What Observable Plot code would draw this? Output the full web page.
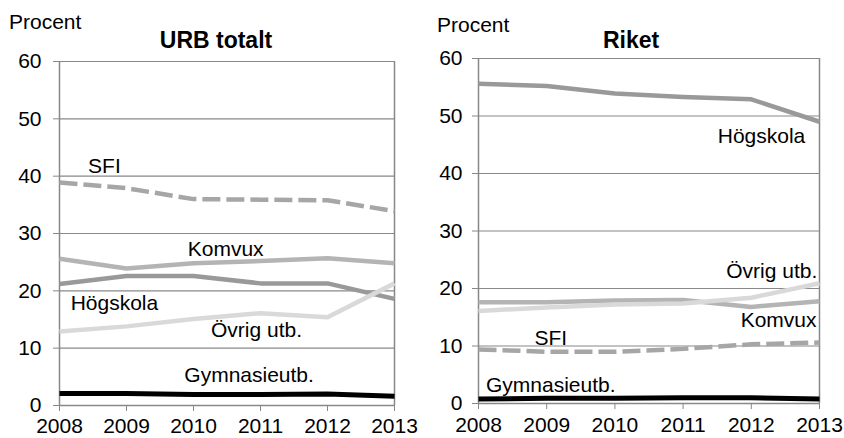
<!DOCTYPE html>
<html>
<head>
<meta charset="utf-8">
<script src="https://cdn.jsdelivr.net/npm/d3@7"></script>
<script src="https://cdn.jsdelivr.net/npm/@observablehq/plot@0.6"></script>
<style>
  html, body { margin: 0; padding: 0; background: #fff; }
  #wrap { position: relative; width: 844px; height: 438px; font-family: "Liberation Sans", Arial, sans-serif; color: #000; }
  .panel { position: absolute; top: 0; }
  .txt { position: absolute; white-space: nowrap; line-height: 1; }
  .unit { font-size: 21px; }
  .title { font-size: 23px; font-weight: bold; transform: translateX(-50%); }
</style>
</head>
<body>
<div id="wrap">
  <div class="panel" id="left" style="left:0"></div>
  <div class="panel" id="right" style="left:422px"></div>
  <div class="txt unit" style="left:9px; top:11px">Procent</div>
  <div class="txt title" style="left:216px; top:29px">URB totalt</div>
  <div class="txt unit" style="left:437px; top:14px">Procent</div>
  <div class="txt title" style="left:631px; top:29px">Riket</div>
</div>
<script>
const years = [2008, 2009, 2010, 2011, 2012, 2013];
const yTicks = [0, 10, 20, 30, 40, 50, 60];
const series = ["Högskola", "Komvux", "SFI", "Övrig utb.", "Gymnasieutb."];

// URB totalt
const urbHogskola = [21.2, 22.6, 22.6, 21.3, 21.3, 18.6];
const urbKomvux   = [25.6, 23.9, 24.8, 25.2, 25.7, 24.8];
const urbSfi      = [38.9, 37.9, 36.0, 35.9, 35.8, 33.9];
const urbOvrig    = [12.9, 13.8, 15.1, 16.1, 15.4, 21.3];
const urbGymn     = [2.1, 2.1, 1.9, 1.9, 2.0, 1.6];

// Riket
const riketHogskola = [55.6, 55.2, 53.9, 53.3, 52.9, 49.0];
const riketKomvux   = [17.6, 17.6, 17.9, 18.0, 16.8, 17.8];
const riketSfi      = [9.4, 9.0, 9.0, 9.5, 10.3, 10.6];
const riketOvrig    = [16.1, 16.7, 17.2, 17.4, 18.4, 20.9];
const riketGymn     = [0.8, 0.9, 0.9, 1.0, 1.0, 0.8];

// label anchors (data coordinates)
const urbLabelX = [2008.82, 2010.48, 2008.67, 2010.94, 2010.83];
const urbLabelY = [17.8, 27.2, 41.7, 13.1, 5.2];
const riketLabelX = [2012.15, 2012.4, 2009.06, 2012.3, 2009.06];
const riketLabelY = [46.4, 14.4, 11.3, 23.0, 3.1];

const styles = {
  "Högskola":     {stroke: "#999999", strokeWidth: 4.5},
  "Komvux":       {stroke: "#b4b4b4", strokeWidth: 4.5},
  "SFI":          {stroke: "#a6a6a6", strokeWidth: 4.5, strokeDasharray: "18,6"},
  "Övrig utb.":   {stroke: "#d9d9d9", strokeWidth: 4.5},
  "Gymnasieutb.": {stroke: "#000000", strokeWidth: 5}
};

function toRows(vals) { return years.map((y, i) => ({year: y, value: vals[i]})); }

function panel(data, lx, ly, m) {
  const labels = series.map((s, i) => ({name: s, x: lx[i], y: ly[i]}));
  const lines = series.map((s, i) =>
    Plot.line(toRows(data[i]), {x: "year", y: "value", ...styles[s], strokeLinejoin: "round", strokeLinecap: "butt"}));
  return Plot.plot({
    width: 422, height: 438,
    marginTop: m.top, marginBottom: m.bottom, marginLeft: m.left, marginRight: m.right,
    style: {fontFamily: "'Liberation Sans', Arial, sans-serif", fontSize: "21px", color: "#000", background: "transparent", overflow: "visible"},
    x: {domain: [2008, 2013]},
    y: {domain: [0, 60]},
    marks: [
      Plot.gridY(yTicks, {stroke: "#888", strokeOpacity: 1, strokeWidth: 1.2}),
      Plot.ruleX([2008, 2013], {stroke: "#888", strokeWidth: 1.5}),
      Plot.ruleY([0], {stroke: "#888", strokeWidth: 1.5}),
      Plot.axisY(yTicks, {tickSize: 6, tickPadding: m.pad, stroke: "#888", fill: "#000", label: null, fontSize: 21}),
      Plot.axisX(years, {tickSize: 6, tickPadding: m.xpad, tickFormat: d => String(d), stroke: "#888", fill: "#000", label: null, fontSize: 21}),
      ...lines,
      Plot.text(labels, {x: "x", y: "y", text: "name", fontSize: 21, fill: "#000"})
    ]
  });
}

document.getElementById("left").append(
  panel([urbHogskola, urbKomvux, urbSfi, urbOvrig, urbGymn], urbLabelX, urbLabelY,
        {top: 61, bottom: 33, left: 59, right: 28, pad: 12, xpad: 7}));
document.getElementById("right").append(
  panel([riketHogskola, riketKomvux, riketSfi, riketOvrig, riketGymn], riketLabelX, riketLabelY,
        {top: 58, bottom: 35, left: 56, right: 25, pad: 10, xpad: 8}));
</script>
</body>
</html>
